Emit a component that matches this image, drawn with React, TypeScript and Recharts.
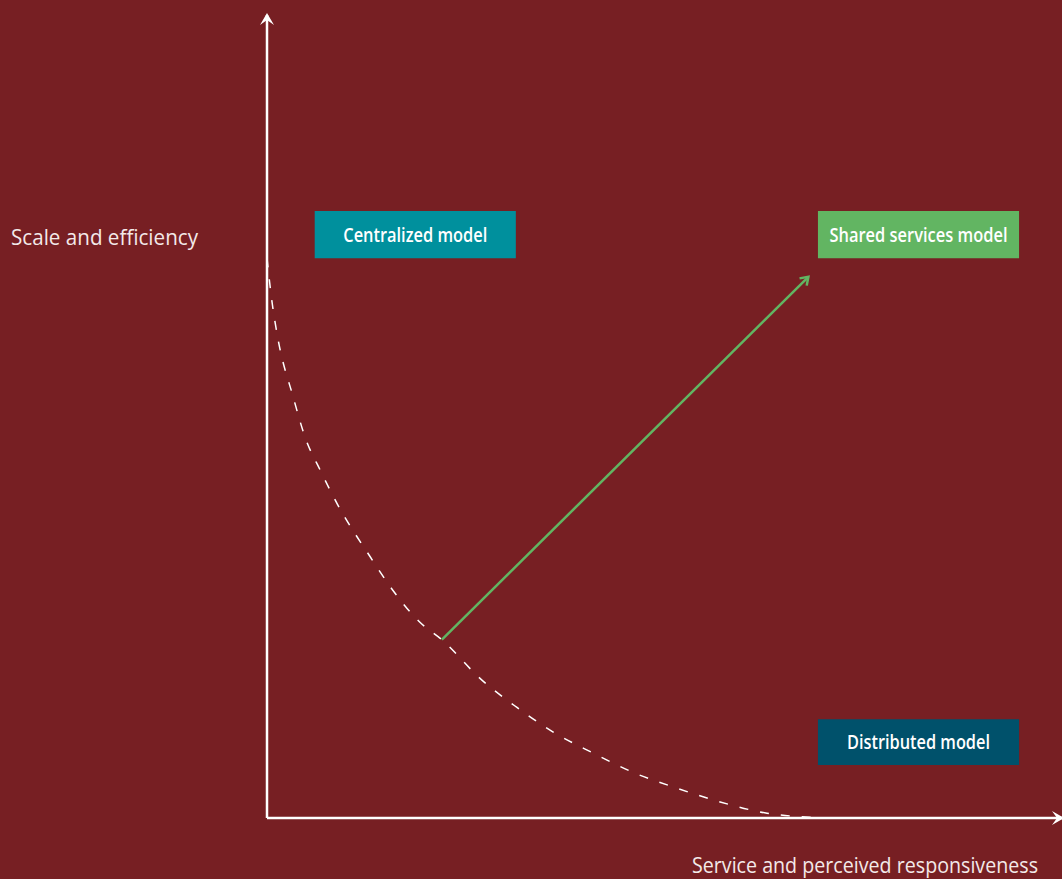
import React from 'react';
import {
  LineChart,
  Line,
  XAxis,
  YAxis,
  ReferenceArea,
  ReferenceLine,
  ReferenceDot,
} from 'recharts';

// trade-off curve (dashed) on a 0-100 grid
const curveX = [0, 0.6, 1.3, 3.3, 4.8, 6.7, 8.9, 13.0, 15.8, 19.2, 22.0, 27.0, 31.4, 36.0, 41.0, 46.0, 51.6, 57.0, 62.9, 68.3, 71.4];
const curveY = [69.7, 64.5, 60.1, 52.4, 47.4, 43.3, 39.0, 32.5, 28.4, 24.4, 22.2, 17.2, 13.8, 10.7, 8.1, 5.7, 3.7, 2.0, 0.6, 0.1, 0];

// green arrow: from the curve towards the shared services model
const arrowFrom = { x: 22.0, y: 22.2 };
const arrowTo = { x: 68.1, y: 67.4 };

// model boxes
const boxNames = ['Centralized model', 'Shared services model', 'Distributed model'];
const boxX1 = [6.0, 69.3, 69.3];
const boxX2 = [31.3, 94.6, 94.6];
const boxY1 = [69.7, 69.7, 6.6];
const boxY2 = [75.6, 75.6, 12.3];
const boxColors = ['#00909D', '#62B562', '#00516B'];
const boxTextWidth = [144, 178, 143];

const yAxisTitle = 'Scale and efficiency';
const xAxisTitle = 'Service and perceived responsiveness';

const BG = '#771F23';
const FONT = '"Open Sans", "Noto Sans", sans-serif';

const curveData = curveX.map((x, i) => ({ x, y: curveY[i] }));

function GreenArrow(props: any) {
  const { x1, y1, x2, y2 } = props;
  const a = Math.atan2(y2 - y1, x2 - x1);
  const len = 9;
  const p1 = [x2 - len * Math.cos(a - 0.6), y2 - len * Math.sin(a - 0.6)];
  const p2 = [x2 - len * Math.cos(a + 0.6), y2 - len * Math.sin(a + 0.6)];
  return (
    <g>
      <line x1={x1} y1={y1} x2={x2} y2={y2} stroke="#62B562" strokeWidth={2.5} />
      <polyline
        points={`${p1[0]},${p1[1]} ${x2},${y2} ${p2[0]},${p2[1]}`}
        fill="none"
        stroke="#62B562"
        strokeWidth={2.5}
      />
    </g>
  );
}

function UpHead(props: any) {
  const { cx, cy } = props;
  return (
    <polygon
      points={`${cx - 7},${cy + 10} ${cx},${cy - 2} ${cx + 7},${cy + 10} ${cx},${cy + 5}`}
      fill="#fff"
    />
  );
}

function RightHead(props: any) {
  const { cx, cy } = props;
  return (
    <polygon
      points={`${cx - 10},${cy - 7} ${cx + 2},${cy} ${cx - 10},${cy + 7} ${cx - 5},${cy}`}
      fill="#fff"
    />
  );
}

function boxLabel(i: number) {
  return (props: any) => {
    const vb = props.viewBox;
    return (
      <text
        x={vb.x + vb.width / 2}
        y={vb.y + vb.height / 2 + 7}
        textAnchor="middle"
        fill="#fff"
        fontSize={19}
        fontWeight={600}
        fontFamily={FONT}
        textLength={boxTextWidth[i]}
        lengthAdjust="spacingAndGlyphs"
      >
        {boxNames[i]}
      </text>
    );
  };
}

export default function App() {
  return (
    <div style={{ position: 'absolute', left: 0, top: 0, width: 1062, height: 879, background: BG }}>
      <LineChart
        width={1062}
        height={879}
        margin={{ top: 15, right: 0, bottom: 60, left: 266 }}
      >
        <XAxis
          type="number"
          dataKey="x"
          domain={[0, 100]}
          height={1}
          tick={false}
          tickLine={false}
          axisLine={{ stroke: '#fff', strokeWidth: 2.5 }}
          label={{
            content: () => (
              <text
                x={692}
                y={873}
                fill="#F3E9E9"
                fontSize={21}
                fontFamily={FONT}
                textLength={346}
                lengthAdjust="spacingAndGlyphs"
              >
                {xAxisTitle}
              </text>
            ),
          }}
        />
        <YAxis
          type="number"
          dataKey="y"
          domain={[0, 100]}
          width={1}
          tick={false}
          tickLine={false}
          axisLine={{ stroke: '#fff', strokeWidth: 2.5 }}
          label={{
            content: () => (
              <text
                x={11}
                y={245}
                fill="#F3E9E9"
                fontSize={21}
                fontFamily={FONT}
                textLength={187}
                lengthAdjust="spacingAndGlyphs"
              >
                {yAxisTitle}
              </text>
            ),
          }}
        />
        {boxNames.map((name, i) => (
          <ReferenceArea
            key={name}
            x1={boxX1[i]}
            x2={boxX2[i]}
            y1={boxY1[i]}
            y2={boxY2[i]}
            fill={boxColors[i]}
            fillOpacity={1}
            stroke="none"
            label={{ content: boxLabel(i) }}
          />
        ))}
        <Line
          data={curveData}
          dataKey="y"
          type="monotone"
          stroke="#fff"
          strokeWidth={1.5}
          strokeDasharray="9 12"
          dot={false}
          activeDot={false}
          isAnimationActive={false}
        />
        <ReferenceLine
          segment={[arrowFrom, arrowTo]}
          ifOverflow="visible"
          shape={GreenArrow}
        />
        <ReferenceDot x={0} y={100} r={0} ifOverflow="visible" shape={UpHead} />
        <ReferenceDot x={100} y={0} r={0} ifOverflow="visible" shape={RightHead} />
      </LineChart>
    </div>
  );
}
